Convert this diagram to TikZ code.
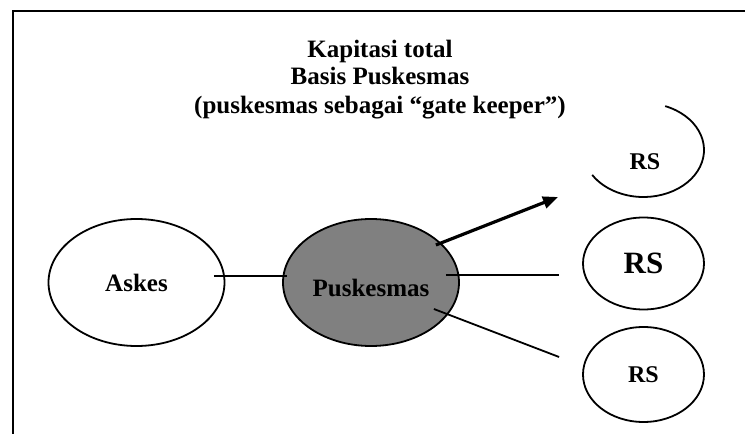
\documentclass[tikz,border=0pt]{standalone}
\usepackage{fontspec}
\setmainfont{Liberation Serif}
\usetikzlibrary{shapes.geometric,arrows.meta}
\definecolor{puskgray}{gray}{0.5}

\begin{document}
\begin{tikzpicture}
    [x = 1pt, y = 1pt, font = \bfseries\fontsize{25}{29}\selectfont,
     blob/.style = {ellipse, draw, line width = 1.8pt, inner sep = 0pt},
     big/.style = {blob, minimum width = 176pt, minimum height = 127pt},
     rs/.style = {blob, minimum width = 121pt, minimum height = 92pt},
     link/.style = {line width = 1.8pt}]
    \useasboundingbox (0,0) rectangle (745,434);
    \draw[line width = 2pt] (13,-5) |- (750,422.5);
    \node[anchor = base] (t1) at (380,376) {Kapitasi total};
    \node[anchor = base] (t2) at (380,349) {Basis Puskesmas};
    \node[anchor = base] (t3) at (380,320) {(puskesmas sebagai “gate keeper”)};
    \node[big] (askes) at (136.5,151.5) {Askes};
    \node[big, fill = puskgray, text height = 28pt, text depth = 0pt] (pusk) at (371,151.5) {Puskesmas};
    \node[rs, font = \bfseries\fontsize{31}{36}\selectfont] (rs2) at (643.5,170.5) {RS};
    \node[rs, minimum height = 95pt, font = \bfseries\fontsize{24}{28}\selectfont] (rs3) at (643.5,59.5) {RS};
    \node[font = \bfseries\fontsize{24}{28}\selectfont] (rs1) at (645,272) {RS};
    \coordinate (rs1c) at (643.5,284);
    \draw[line width = 1.8pt] ([shift = {(69:60.5 and 47)}]rs1c)
      arc [start angle = 69, end angle = -148, x radius = 60.5, y radius = 47];
    % line ends
    \coordinate (a1) at ([shift = {(-11.5,6.5)}]askes.east);
    \coordinate (p1) at ([shift = {(5,6.5)}]pusk.west);
    \coordinate (p2) at ([shift = {(-14,7.5)}]pusk.east);
    \coordinate (r2) at ([shift = {(-23,-11.5)}]rs2.west);
    \coordinate (p3) at ([shift = {(-26,-26.5)}]pusk.east);
    \coordinate (r3) at ([shift = {(-23,17.5)}]rs3.west);
    \coordinate (p4) at ([shift = {(-24,37.5)}]pusk.east);
    \coordinate (r4) at ([shift = {(-85.5,-47)}]rs1c);
    \foreach \from/ \to in {a1/p1,p2/r2,p3/r3}
      \draw[link] (\from) -- (\to);
    \draw[-{Triangle[length = 15pt, width = 12pt]}, line width = 3.2pt] (p4) -- (r4);
\end{tikzpicture}
\end{document}
